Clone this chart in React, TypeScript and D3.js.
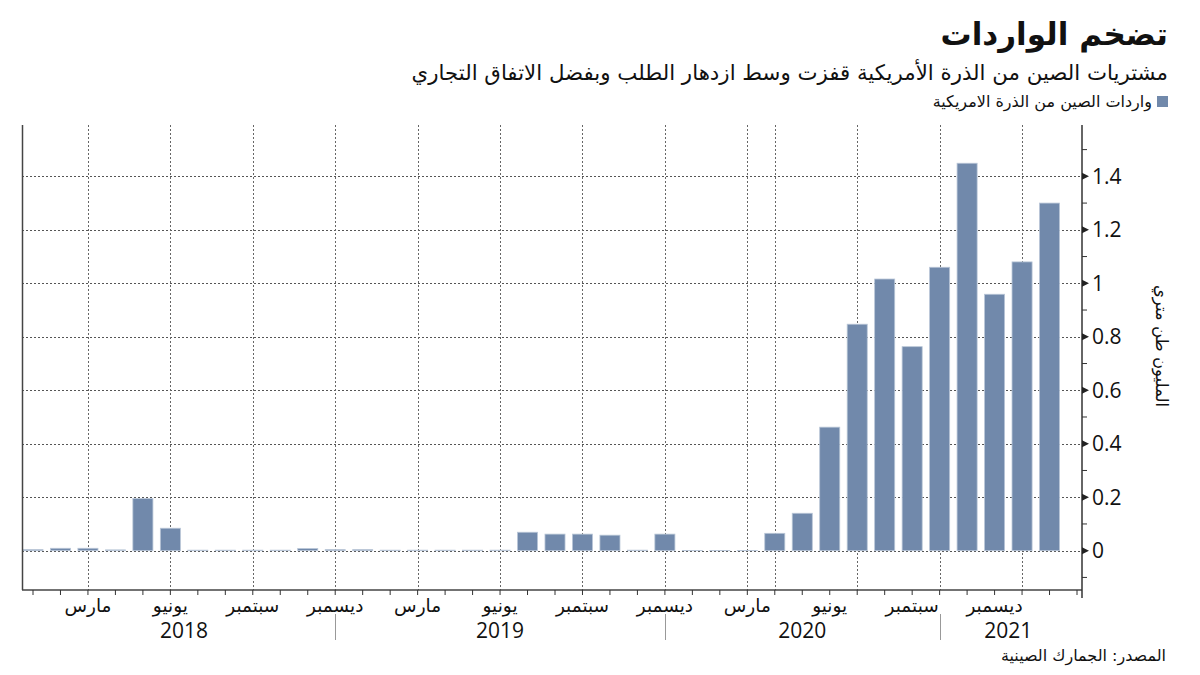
import * as d3 from "d3";

// monthly imports, million tonnes, Jan 2018 .. Feb 2021
const imports = [
  0.004, 0.009, 0.009, 0.003, 0.195, 0.084, 0.002, 0.002, 0.002, 0.002, 0.008, 0.004,
  0.004, 0.002, 0.002, 0.002, 0.002, 0.002, 0.069, 0.062, 0.062, 0.058, 0.002, 0.062,
  0.001, 0.001, 0.001, 0.065, 0.14, 0.462, 0.847, 1.016, 0.763, 1.06, 1.449, 0.959,
  1.08, 1.3,
];
const quarterNames = ["مارس", "يونيو", "سبتمبر", "ديسمبر"];
const years = ["2018", "2019", "2020", "2021"];
const yearDividers = ["2018-12", "2019-12", "2020-10"];
const gridMonths = [
  "2018-03", "2018-06", "2018-09", "2018-12", "2019-03", "2019-06", "2019-09",
  "2019-12", "2020-03", "2020-04", "2020-07", "2020-10", "2021-01",
];
const yTicks = [0, 0.2, 0.4, 0.6, 0.8, 1, 1.2, 1.4];
const yMinor = [-0.1, 0.1, 0.3, 0.5, 0.7, 0.9, 1.1, 1.3, 1.5];

const title = "تضخم الواردات";
const subtitle = "مشتريات الصين من الذرة الأمريكية قفزت وسط ازدهار الطلب وبفضل الاتفاق التجاري";
const legendLabel = "واردات الصين من الذرة الامريكية";
const unitLabel = "المليون طن متري";
const source = "المصدر: الجمارك الصينية";

const fmt = d3.utcFormat("%Y-%m");
const months = d3.utcMonths(new Date(Date.UTC(2018, 0, 1)), new Date(Date.UTC(2021, 3, 1))).map(fmt);

export default function App() {
  const width = 1200;
  const height = 675;
  const left = 22;
  const right = 1082;
  const top = 125;
  const bottom = 590;
  const barColor = "#7189ab";
  const font = "'DejaVu Sans', sans-serif";
  const numFont = "'Open Sans', sans-serif";

  const x = d3.scalePoint<string>().domain(months).range([33, 1077]);
  const bw = x.step() * 0.73;
  const y = d3.scaleLinear().domain([-0.147, 1.592]).range([bottom, top]);

  // quarter labels only where there is data
  const labelTicks = months.slice(0, imports.length).filter((m) => +m.slice(5) % 3 === 0);
  const bounds = [x(months[0])!, ...yearDividers.map((m) => x(m)!), x(months[months.length - 1])!];

  return (
    <svg width={width} height={height} style={{ position: "absolute", left: 0, top: 0, background: "#fff" }}>
      <text x={1168} y={45} textAnchor="end" fontFamily={font} fontWeight="bold" fontSize={31} fill="#111">
        {title}
      </text>
      <text x={1168} y={80} textAnchor="end" fontFamily={font} fontSize={21.3} fill="#111">
        {subtitle}
      </text>
      <rect x={1157} y={96} width={11} height={11} fill={barColor} />
      <text x={1152} y={107} textAnchor="end" fontFamily={font} fontSize={16} fill="#111">
        {legendLabel}
      </text>

      {/* grid */}
      {yTicks.map((t) => (
        <line key={t} x1={left} x2={right} y1={Math.round(y(t)) + 0.5} y2={Math.round(y(t)) + 0.5}
          stroke="#555" strokeDasharray="2,2" />
      ))}
      {gridMonths.map((m) => (
        <line key={m} x1={Math.round(x(m)!) + 0.5} x2={Math.round(x(m)!) + 0.5} y1={top} y2={bottom}
          stroke="#666" strokeDasharray="2,2" />
      ))}

      {/* bars */}
      {imports.map((v, i) => (
        <rect key={months[i]} x={x(months[i])! - bw / 2} width={bw} y={y(v)} height={Math.max(0, y(0) - y(v))}
          fill={barColor} stroke="#b9c6d7" strokeWidth={0.8} />
      ))}

      {/* frame */}
      <line x1={left + 0.5} x2={left + 0.5} y1={top} y2={bottom} stroke="#444" strokeWidth={1.5} />
      <line x1={left} x2={right} y1={bottom} y2={bottom} stroke="#444" strokeWidth={1.5} />
      <line x1={right} x2={right} y1={top} y2={bottom + 8} stroke="#333" strokeWidth={1.5} />

      {/* right axis */}
      {yTicks.map((t) => (
        <g key={t} transform={`translate(${right},${y(t)})`}>
          <path d="M0,-3.5L7,0L0,3.5Z" fill="#222" />
          <text x={10} y={7.5} fontFamily={numFont} fontSize={21} fill="#111">
            {d3.format("~g")(t)}
          </text>
        </g>
      ))}
      {yMinor.map((t) => (
        <line key={t} x1={right} x2={right + 5} y1={y(t)} y2={y(t)} stroke="#333" />
      ))}
      <text transform="translate(1156,346) rotate(90)" textAnchor="middle" fontFamily={font} fontSize={16.5} fill="#111">
        {unitLabel}
      </text>

      {/* bottom axis */}
      {months.map((m) => (
        <line key={m} x1={x(m)} x2={x(m)} y1={bottom} y2={bottom + 5} stroke="#333" />
      ))}
      {labelTicks.map((m) => (
        <text key={m} x={x(m)} y={612} textAnchor="middle" fontFamily={font} fontSize={18.5} fill="#111">
          {quarterNames[+m.slice(5) / 3 - 1]}
        </text>
      ))}
      {yearDividers.map((m) => (
        <line key={m} x1={Math.round(x(m)!) + 0.5} x2={Math.round(x(m)!) + 0.5} y1={614} y2={640} stroke="#999" />
      ))}
      {years.map((yr, i) => (
        <text key={yr} x={(bounds[i] + bounds[i + 1]) / 2} y={638} textAnchor="middle"
          fontFamily={numFont} fontSize={21} fill="#111">
          {yr}
        </text>
      ))}

      <text x={1166} y={661} textAnchor="end" fontFamily={font} fontSize={16} fill="#111">
        {source}
      </text>
    </svg>
  );
}
